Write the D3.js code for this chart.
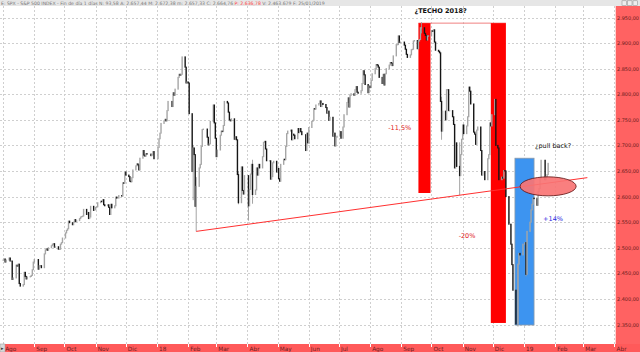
<!DOCTYPE html>
<html><head><meta charset="utf-8">
<script src="https://cdn.jsdelivr.net/npm/d3@7"></script>
<style>html,body{margin:0;padding:0;background:#fff;overflow:hidden}svg{display:block;font-family:"DejaVu Sans",Arial,sans-serif}</style>
</head><body>
<script>
// ---- DATA (S&P 500 daily closes) ----
const closes2017 = [
 2476,2478,2472,2476,2480,2474,2474,2438,2441,2466,2464,2468,2430,2425,2428,2452,2444,2439,2443,2444,2446,2457,2472,
 2477,2458,2465,2465,2461,2488,2496,2498,2495,2500,2504,2507,2508,2501,2502,2497,2497,2507,2510,2519,
 2529,2534,2537,2552,2549,2545,2550,2555,2551,2553,2557,2560,2561,2562,2575,2565,2569,2557,2560,2581,2573,2575,
 2579,2580,2588,2591,2590,2594,2584,2582,2584,2579,2565,2585,2578,2582,2599,2597,2602,2601,2627,2626,2648,
 2642,2639,2630,2629,2637,2652,2660,2664,2662,2652,2675,2690,2681,2679,2684,2683,2680,2682,2688,2674];
const closes2018a = [
 2696,2713,2724,2743,2748,2751,2748,2768,2786,2776,2803,2798,2810,2833,2839,2837,2839,2873,2853,2822,2824,
 2822,2762,2649,2695,2682,2581,2620,2656,2663,2698,2731,2732,2716,2701,2703,2747,2779,2744,2714,
 2678,2691,2720,2728,2727,2739,2786,2783,2765,2750,2748,2752,2712,2717,2711,2643,2588,2658,2612,2605,2641,
 2582,2614,2644,2663,2604,2613,2656,2642,2663,2656,2678,2706,2708,2693,2670,2670,2634,2639,2666,2669,2648,
 2655,2635,2630,2663,2673,2672,2698,2723,2728,2730,2711,2722,2720,2713,2733,2725,2733,2727,2721,2690,2724,2705,
 2735,2747,2749,2772,2771,2779,2782,2787,2776,2782,2780,2774,2763,2767,2749,2755,2718,2724,2699,2716,2718];
const closes2018b = [
 2727,2714,2736,2760,2784,2793,2775,2798,2801,2798,2809,2815,2804,2802,2807,2821,2846,2838,2819,2803,2816,
 2813,2827,2840,2850,2858,2857,2853,2833,2821,2839,2818,2840,2850,2857,2862,2861,2856,2875,2897,2897,2914,2901,2902,
 2896,2888,2878,2872,2877,2887,2888,2904,2905,2889,2904,2907,2930,2930,2919,2915,2906,2914,2914,
 2924,2923,2926,2902,2886,2884,2881,2786,2728,2767,2750,2809,2809,2768,2768,2756,2741,2656,2705,2659,2641,2682,2712,
 2740,2723,2738,2756,2814,2806,2781,2726,2722,2702,2730,2736,2690,2642,2649,2633,2674,2682,2744,2738,2760,
 2790,2700,2695,2633,2638,2636,2651,2650,2600,2546,2546,2507,2467,2417,2351,2468,2489,2486,2507];
const closes2019 = [2510,2448,2532,2550,2574,2585,2597,2596,2583,2610,2616,2636,2671,2633,2639,2643,2665];
// notable intraday ranges (wicks)
const wickDates = ["2018-02-06","2018-02-09","2018-03-23","2018-04-02","2018-04-06","2018-09-21","2018-10-11","2018-10-29","2018-12-26","2019-01-03"];
const wickHighs = [2701,2638,2650,2638,2672,2941,2795,2706,2468,2493];
const wickLows  = [2593,2532,2585,2553,2586,2919,2711,2603,2346,2444];
const firstDay = "2017-08-01";
const holidays = ["2017-09-04","2017-11-23","2017-12-25","2018-01-01","2018-01-15","2018-02-19","2018-03-30",
 "2018-05-28","2018-07-04","2018-09-03","2018-11-22","2018-12-05","2018-12-25","2019-01-01","2019-01-21"];
const monthLabels = ["Ago","Sep","Oct","Nov","Dic","18","Feb","Mar","Abr","May","Jun","Jul","Ago","Sep","Oct","Nov","Dic","19","Feb","Mar","Abr"];
const monthStarts = ["2017-08-01","2017-09-01","2017-10-01","2017-11-01","2017-12-01","2018-01-01","2018-02-01","2018-03-01",
 "2018-04-01","2018-05-01","2018-06-01","2018-07-01","2018-08-01","2018-09-01","2018-10-01","2018-11-01","2018-12-01",
 "2019-01-01","2019-02-01","2019-03-01","2019-04-01"];
const yTicks = [2350,2400,2450,2500,2550,2600,2650,2700,2750,2800,2850,2900,2950];
// annotations (data coordinates)
const redZones = [{start:"2018-09-18",end:"2018-09-30",top:2939,bottom:2607},
                  {start:"2018-11-29",end:"2018-12-14",top:2939,bottom:2353}];
const blueZone = {start:"2018-12-23",end:"2019-01-11",top:2675,bottom:2349};
const topLine = {start:"2018-09-18",end:"2018-12-14",value:2939};
const trendLine = [{d:"2018-02-09",v:2532},{d:"2019-03-05",v:2637}];
const ellipseAt = {d:"2019-01-25",v:2620};
const notes = [
 {t:"¿TECHO 2018?",d:"2018-09-14",v:2942,c:"#111",b:true,dy:-9},
 {t:"-11,5%",d:"2018-08-19",v:2730,c:"#e02020"},
 {t:"-20%",d:"2018-10-28",v:2520,c:"#e02020"},
 {t:"+14%",d:"2019-01-20",v:2553,c:"#2a2ae0"},
 {t:"¿pull back?",d:"2019-01-12",v:2695,c:"#111"}
];
const headerText = "E: SPX - S&P 500 INDEX - Fin de día 1 días  N: 93,58  A: 2.657,44  M: 2.672,38  m: 2.657,33  C: 2.664,76";
const headerP = "P: 2.636,78";
const headerTail = "V: 2.463.679  F: 25/01/2019";

// ---- CHART ----
const W = 640, H = 352, plotR = 615, plotT = 6, plotB = 344;
const parse = d3.utcParse("%Y-%m-%d");
const closes = closes2017.concat(closes2018a, closes2018b, closes2019);
const hol = new Set(holidays);
const dates = [];
let cur = parse(firstDay);
while (dates.length < closes.length) {
  const wd = cur.getUTCDay();
  if (wd > 0 && wd < 6 && !hol.has(d3.utcFormat("%Y-%m-%d")(cur))) dates.push(cur);
  cur = d3.utcDay.offset(cur, 1);
}
const x = d3.scaleUtc().domain([parse("2018-01-01"), parse("2019-01-01")]).range([157, 524]);
const y = d3.scaleLinear().domain([2350, 2950]).range([324.5, 17.5]);
const loc = d3.formatLocale({decimal:",", thousands:".", grouping:[3], currency:["",""]});
const fmt = loc.format(",.2f");

const svg = d3.select("body").append("svg").attr("width", W).attr("height", H);
svg.append("rect").attr("width", W).attr("height", H).attr("fill", "#fff");

// grid
const g = svg.append("g");
g.selectAll("line.h").data(yTicks).join("line")
  .attr("x1", 0).attr("x2", plotR).attr("y1", d => Math.round(y(d)) + 0.5).attr("y2", d => Math.round(y(d)) + 0.5)
  .attr("stroke", "#cfcfcf").attr("stroke-dasharray", "2,2");
g.selectAll("line.v").data(monthStarts).join("line")
  .attr("x1", d => Math.round(x(parse(d))) + 0.5).attr("x2", d => Math.round(x(parse(d))) + 0.5)
  .attr("y1", plotT).attr("y2", plotB).attr("stroke", "#cfcfcf").attr("stroke-dasharray", "2,2");

// top horizontal line
svg.append("line").attr("x1", x(parse(topLine.start))).attr("x2", x(parse(topLine.end)))
  .attr("y1", y(topLine.value)).attr("y2", y(topLine.value)).attr("stroke", "#f08080").attr("stroke-width", 1);

// red zones
svg.selectAll("rect.red").data(redZones).join("rect")
  .attr("x", d => x(parse(d.start))).attr("width", d => x(parse(d.end)) - x(parse(d.start)))
  .attr("y", d => y(d.top)).attr("height", d => y(d.bottom) - y(d.top)).attr("fill", "#ff0000");
// blue zone
svg.append("rect").attr("x", x(parse(blueZone.start))).attr("width", x(parse(blueZone.end)) - x(parse(blueZone.start)))
  .attr("y", y(blueZone.top)).attr("height", y(blueZone.bottom) - y(blueZone.top))
  .attr("fill", "#3d94f0").attr("stroke", "#8a9aaa").attr("stroke-width", 0.8);

// wicks
svg.selectAll("line.wick").data(wickDates).join("line")
  .attr("x1", d => x(parse(d))).attr("x2", d => x(parse(d)))
  .attr("y1", (d, i) => y(wickHighs[i])).attr("y2", (d, i) => y(wickLows[i]))
  .attr("stroke", "#9a9a9a").attr("stroke-width", 0.9);

// candles (body from previous close to close)
const cg = svg.append("g");
closes.forEach((c, i) => {
  const o = i > 0 ? closes[i - 1] : c;
  const up = c >= o;
  const y1 = y(Math.max(o, c)), y2 = y(Math.min(o, c));
  cg.append("rect").attr("x", x(dates[i]) - 0.7).attr("width", 1.4)
    .attr("y", y1 - 0.5).attr("height", Math.max(1.2, y2 - y1 + 1))
    .attr("fill", up ? "#a6a6a6" : "#151515");
});

// trend line
svg.append("line").attr("x1", x(parse(trendLine[0].d))).attr("y1", y(trendLine[0].v))
  .attr("x2", x(parse(trendLine[1].d))).attr("y2", y(trendLine[1].v))
  .attr("stroke", "#ff3030").attr("stroke-width", 1);

// ellipse
svg.append("ellipse").attr("cx", x(parse(ellipseAt.d))).attr("cy", y(ellipseAt.v)).attr("rx", 28).attr("ry", 9.5)
  .attr("fill", "#f87474").attr("fill-opacity", 0.92).attr("stroke", "#5a1010").attr("stroke-width", 0.8);

// notes
svg.selectAll("text.note").data(notes).join("text")
  .attr("x", d => x(parse(d.d))).attr("y", d => y(d.v) + (d.dy || 0))
  .attr("fill", d => d.c).attr("font-size", 6.5).attr("font-weight", d => d.b ? "bold" : "normal")
  .text(d => d.t);

// right axis panel
svg.append("rect").attr("x", plotR).attr("y", plotT).attr("width", W - plotR).attr("height", plotB - plotT).attr("fill", "#ff6262");
svg.append("line").attr("x1", plotR + 0.5).attr("x2", plotR + 0.5).attr("y1", plotT).attr("y2", plotB).attr("stroke", "#ffd0d0");
svg.selectAll("text.yl").data(yTicks).join("text")
  .attr("x", plotR + 2).attr("y", d => y(d) + 2).attr("font-size", 5.2).attr("fill", "#6a1c1c")
  .attr("textLength", 22).attr("lengthAdjust", "spacingAndGlyphs").text(d => fmt(d));

// bottom axis
svg.append("rect").attr("x", 0).attr("y", plotB).attr("width", W).attr("height", H - plotB).attr("fill", "#ff5a5a");
svg.selectAll("line.xt").data(monthStarts).join("line")
  .attr("x1", d => Math.round(x(parse(d))) + 0.5).attr("x2", d => Math.round(x(parse(d))) + 0.5)
  .attr("y1", plotB).attr("y2", plotB + 3).attr("stroke", "#fff");
svg.selectAll("text.xl").data(monthStarts).join("text")
  .attr("x", d => x(parse(d)) + 2).attr("y", H - 1.5).attr("font-size", 5.8).attr("fill", "#6a1c1c")
  .text((d, i) => monthLabels[i]);
svg.append("rect").attr("x", 0).attr("y", plotB).attr("width", 5).attr("height", H - plotB).attr("fill", "#d8d8d8").attr("stroke", "#999").attr("stroke-width", 0.5);
svg.append("text").attr("x", 1).attr("y", H - 2).attr("font-size", 5).attr("fill", "#333").text("▸");

// header
svg.append("rect").attr("x", 0).attr("y", 0).attr("width", W).attr("height", plotT).attr("fill", "#e6e6e6");
const ht = svg.append("text").attr("x", 1).attr("y", 4.8).attr("font-size", 4.6).attr("fill", "#777");
ht.append("tspan").text(headerText + "  ");
ht.append("tspan").attr("fill", "#ff4040").text(headerP);
ht.append("tspan").text("  " + headerTail);
// window buttons
[0, 1, 2].forEach(i => {
  svg.append("rect").attr("x", 622 + i * 5.5).attr("y", 0.8).attr("width", 4.5).attr("height", 4.5)
    .attr("fill", "#eee").attr("stroke", "#888").attr("stroke-width", 0.5);
});
</script>
</body></html>
